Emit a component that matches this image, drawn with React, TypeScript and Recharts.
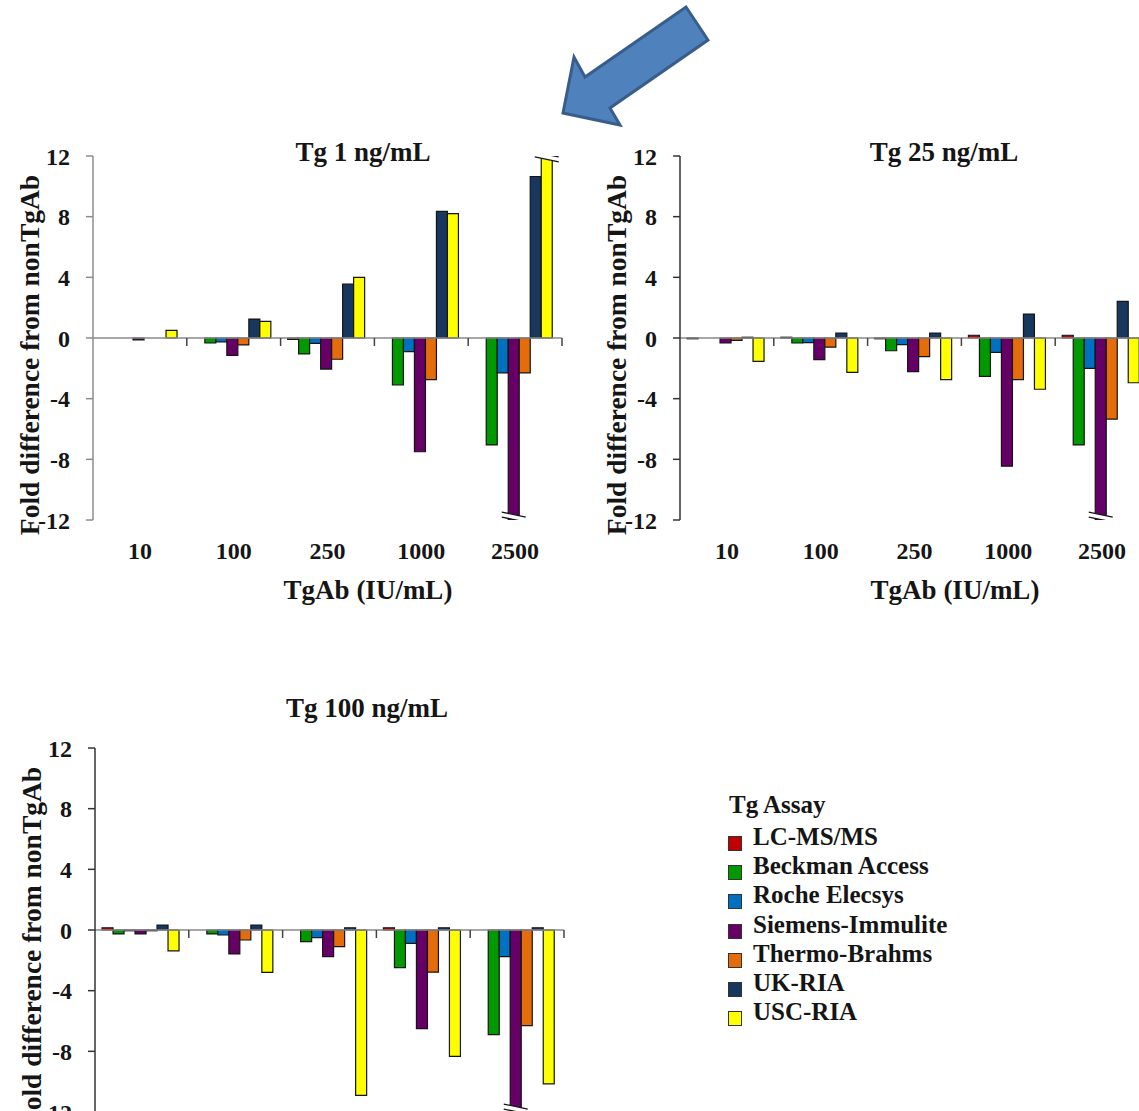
import React from 'react'
import { BarChart, Bar, XAxis, YAxis, ReferenceLine, Rectangle } from 'recharts'

const TGAB = ['10', '100', '250', '1000', '2500']
const ASSAYS = [
  'LC-MS/MS',
  'Beckman Access',
  'Roche Elecsys',
  'Siemens-Immulite',
  'Thermo-Brahms',
  'UK-RIA',
  'USC-RIA',
]
const ASSAY_COLORS = ['#C00000', '#009A00', '#0070C0', '#660066', '#E46C0A', '#17375E', '#FFFF00']
const Y_TICKS = [-12, -8, -4, 0, 4, 8, 12]

// rows follow ASSAYS, columns follow TGAB. |v| > 12 means the bar runs off the axis (drawn broken)
const TG1 = [
  [0, 0, -0.1, 0, 0],
  [0, -0.33, -1.05, -3.1, -7.05],
  [0, -0.25, -0.35, -0.9, -2.3],
  [-0.13, -1.15, -2.05, -7.5, -12.2],
  [0, -0.45, -1.4, -2.75, -2.3],
  [0, 1.25, 3.55, 8.35, 10.65],
  [0.5, 1.1, 4.0, 8.2, 12.2],
]
const TG25 = [
  [-0.05, 0.05, -0.05, 0.18, 0.18],
  [0, -0.33, -0.84, -2.53, -7.05],
  [0, -0.3, -0.44, -0.95, -2.0],
  [-0.33, -1.43, -2.22, -8.45, -12.2],
  [-0.15, -0.6, -1.23, -2.75, -5.35],
  [0.05, 0.33, 0.33, 1.58, 2.42],
  [-1.54, -2.26, -2.75, -3.38, -2.95],
]
const TG100 = [
  [0.15, 0, 0, 0.15, 0],
  [-0.26, -0.26, -0.77, -2.48, -6.9],
  [-0.05, -0.33, -0.5, -0.88, -1.75],
  [-0.26, -1.58, -1.75, -6.5, -12.2],
  [-0.05, -0.66, -1.1, -2.78, -6.3],
  [0.33, 0.33, 0.15, 0.15, 0.15],
  [-1.38, -2.8, -10.9, -8.33, -10.15],
]

const FONT = '"Liberation Serif", "Times New Roman", Times, serif'
const INK = '#151515'
const PLOT_W = 469
const PLOT_H = 364
const Y_AXIS_W = 80
const M_LEFT = 13
const M_TOP = 30
const X_AXIS_H = 110
const PLOT_LEFT = M_LEFT + Y_AXIS_W
const ZERO_Y = M_TOP + PLOT_H / 2
const BAND = PLOT_W / TGAB.length

// bar with a "//" break mark when the value runs past the axis
function BrokenBar(props: any) {
  const { x, y, width, height, fill, stroke, strokeWidth, raw } = props
  if (!height) return null
  const broken = Math.abs(raw) > 12
  const dir = height >= 0 ? 1 : -1
  const cx = x + width / 2
  const cy = y + dir * 5
  return (
    <g>
      <Rectangle x={x} y={y} width={width} height={height} fill={fill} stroke={stroke} strokeWidth={strokeWidth} />
      {broken && (
        <g>
          <polygon
            points={`${cx - 12},${cy - 6} ${cx + 12},${cy - 1} ${cx + 12},${cy + 4} ${cx - 12},${cy - 1}`}
            fill="#fff"
          />
          <line x1={cx - 12} y1={cy - 6} x2={cx + 12} y2={cy - 1} stroke={INK} strokeWidth={1.3} />
          <line x1={cx - 12} y1={cy - 1} x2={cx + 12} y2={cy + 4} stroke={INK} strokeWidth={1.3} />
        </g>
      )}
    </g>
  )
}

interface PanelProps {
  title: string
  values: number[][]
  plotX: number
  plotY: number
  titleX: number
  titleY: number
  axisColor: string
}

function Panel({ title, values, plotX, plotY, titleX, titleY, axisColor }: PanelProps) {
  const rows = TGAB.map((t, i) => {
    const r: Record<string, string | number> = { tgab: t }
    ASSAYS.forEach((_, k) => {
      r['s' + k] = values[k][i]
    })
    return r
  })

  const renderXTick = (p: any) => (
    <g>
      <text
        x={p.x}
        y={M_TOP + PLOT_H + 39}
        textAnchor="middle"
        fontSize={24}
        fontWeight={700}
        fontFamily={FONT}
        fill={INK}
      >
        {p.payload.value}
      </text>
      <line x1={p.x + BAND / 2} x2={p.x + BAND / 2} y1={ZERO_Y} y2={ZERO_Y + 8} stroke="#444" strokeWidth={1.5} />
    </g>
  )

  return (
    <>
      <div
        style={{
          position: 'absolute',
          left: titleX - 200,
          width: 400,
          top: titleY - 22.6,
          textAlign: 'center',
          fontSize: 27,
          lineHeight: '27px',
          fontWeight: 700,
          color: INK,
        }}
      >
        {title}
      </div>
      <div style={{ position: 'absolute', left: plotX - PLOT_LEFT, top: plotY - M_TOP }}>
        <BarChart
          width={PLOT_LEFT + PLOT_W + 10}
          height={M_TOP + PLOT_H + X_AXIS_H}
          data={rows}
          margin={{ top: M_TOP, right: 10, left: M_LEFT, bottom: 0 }}
          barCategoryGap="7.5%"
          barGap={0}
        >
          <XAxis
            dataKey="tgab"
            axisLine={false}
            tickLine={false}
            tickSize={0}
            tickMargin={0}
            height={X_AXIS_H}
            interval={0}
            tick={renderXTick}
            label={{
              content: () => (
                <text
                  x={PLOT_LEFT + 275}
                  y={M_TOP + PLOT_H + 79}
                  textAnchor="middle"
                  fontSize={27}
                  fontWeight={700}
                  fontFamily={FONT}
                  fill={INK}
                >
                  TgAb (IU/mL)
                </text>
              ),
            }}
          />
          <YAxis
            width={Y_AXIS_W}
            domain={[-12, 12]}
            ticks={Y_TICKS}
            interval={0}
            allowDataOverflow
            tickSize={7}
            tickMargin={16}
            axisLine={{ stroke: axisColor, strokeWidth: 1.5 }}
            tickLine={{ stroke: axisColor, strokeWidth: 1.5 }}
            tick={{ fill: INK, fontSize: 24, fontWeight: 700, fontFamily: FONT }}
            label={{
              content: () => {
                const lx = PLOT_LEFT - 54
                const ly = ZERO_Y + 17
                return (
                  <text
                    x={lx}
                    y={ly}
                    transform={`rotate(-90, ${lx}, ${ly})`}
                    textAnchor="middle"
                    fontSize={27.5}
                    fontWeight={700}
                    fontFamily={FONT}
                    fill={INK}
                  >
                    Fold difference from nonTgAb
                  </text>
                )
              },
            }}
          />
          <ReferenceLine y={0} stroke="#8a8a8a" strokeWidth={1.5} />
          {ASSAYS.map((name, k) => (
            <Bar
              key={name}
              dataKey={'s' + k}
              name={name}
              fill={ASSAY_COLORS[k]}
              stroke={INK}
              strokeWidth={1.2}
              isAnimationActive={false}
              shape={(p: any) => <BrokenBar {...p} raw={p.payload['s' + k]} />}
            />
          ))}
        </BarChart>
      </div>
    </>
  )
}

function AssayLegend() {
  return (
    <div style={{ position: 'absolute', left: 728, top: 790, fontSize: 25, fontWeight: 700, color: INK }}>
      <div style={{ height: 32, lineHeight: '29px', paddingLeft: 1 }}>Tg Assay</div>
      {ASSAYS.map((a, k) => (
        <div key={a} style={{ position: 'relative', height: 29.2, lineHeight: '29px', paddingLeft: 25, whiteSpace: 'nowrap' }}>
          <span
            style={{
              position: 'absolute',
              left: 0,
              top: 14,
              width: 12,
              height: 13,
              background: ASSAY_COLORS[k],
              border: '1.5px solid #333',
            }}
          />
          {a}
        </div>
      ))}
    </div>
  )
}

export default function App() {
  return (
    <div
      style={{
        position: 'fixed',
        left: 0,
        top: 0,
        width: 1139,
        height: 1111,
        overflow: 'hidden',
        background: '#fff',
        fontFamily: FONT,
      }}
    >
      <svg style={{ position: 'absolute', left: 0, top: 0 }} width={1139} height={140}>
        <polygon
          points="686,7 708,40 610,108 620,125 563,113 574,57 585,77"
          fill="#4F81BD"
          stroke="#385D8A"
          strokeWidth={3}
        />
      </svg>
      <Panel title="Tg 1 ng/mL" values={TG1} plotX={93} plotY={155.7} titleX={363} titleY={162} axisColor="#8c8c8c" />
      <Panel title="Tg 25 ng/mL" values={TG25} plotX={680} plotY={155.7} titleX={944} titleY={162} axisColor="#333" />
      <Panel title="Tg 100 ng/mL" values={TG100} plotX={95} plotY={748} titleX={367} titleY={718} axisColor="#333" />
      <AssayLegend />
    </div>
  )
}
